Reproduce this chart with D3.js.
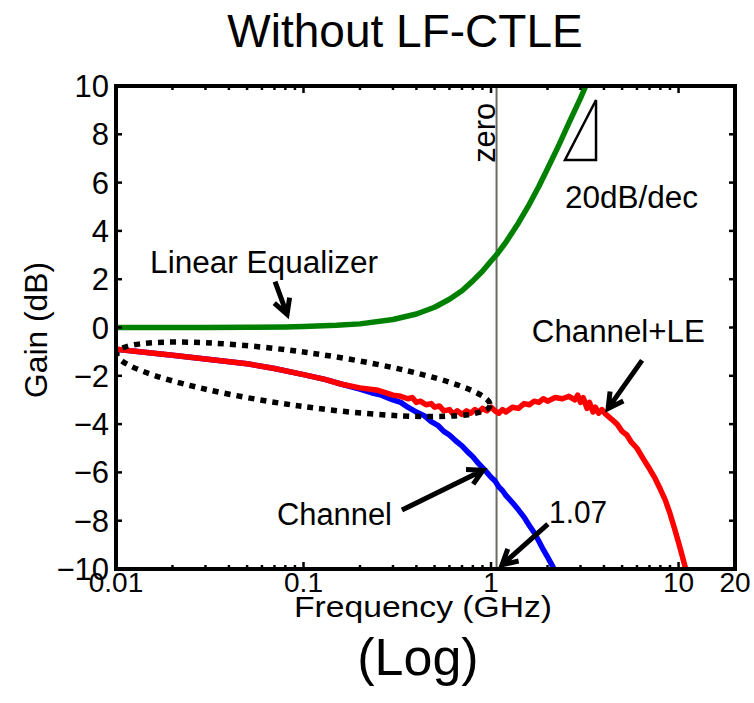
<!DOCTYPE html>
<html><head><meta charset="utf-8">
<script src="https://cdn.jsdelivr.net/npm/d3@7"></script>
<style>body{margin:0;background:#fff} text{font-family:"Liberation Sans",Arial,Helvetica,sans-serif;fill:#000}</style>
</head><body><svg id="c" width="754" height="703"></svg>
<script>
// ---------- data ----------
const xTickValues = [0.01, 0.1, 1, 10, 20];
const xTickLabels = ["0.01", "0.1", "1", "10", "20"];
const yTickValues = [-10, -8, -6, -4, -2, 0, 2, 4, 6, 8, 10];

const leFreq = [0.01, 0.03, 0.05, 0.08, 0.1, 0.15, 0.2, 0.3, 0.4, 0.5, 0.6, 0.7, 0.8, 0.9, 1.0, 1.07, 1.2, 1.4, 1.6, 1.8, 2.0, 2.3, 2.6, 3.0, 3.2, 3.4];
const leGain = [0, 0, 0.01, 0.02, 0.04, 0.09, 0.15, 0.33, 0.56, 0.84, 1.17, 1.52, 1.93, 2.33, 2.75, 3.01, 3.53, 4.33, 5.1, 5.85, 6.57, 7.55, 8.46, 9.5, 10.0, 10.5];

const chFreq = [0.01, 0.015, 0.02, 0.03, 0.05, 0.07, 0.1, 0.13, 0.16, 0.2, 0.23, 0.26, 0.3, 0.33, 0.36, 0.4, 0.44, 0.48, 0.52, 0.56, 0.6, 0.65, 0.7, 0.75, 0.8, 0.85, 0.9, 0.95, 1.0, 1.05, 1.1, 1.15, 1.2, 1.3, 1.4, 1.5, 1.6, 1.7, 1.8, 1.9, 2.0, 2.1, 2.2];
const chGain = [-0.9, -1.05, -1.15, -1.3, -1.5, -1.7, -1.95, -2.15, -2.35, -2.55, -2.7, -2.8, -3.0, -3.1, -3.3, -3.5, -3.65, -3.9, -4.05, -4.3, -4.45, -4.7, -4.9, -5.15, -5.35, -5.6, -5.8, -6.0, -6.2, -6.35, -6.6, -6.75, -6.95, -7.25, -7.55, -7.85, -8.2, -8.5, -8.85, -9.2, -9.5, -9.8, -10.1];

const cleFreq = [0.01, 0.015, 0.02, 0.03, 0.05, 0.07, 0.1, 0.13, 0.16, 0.2, 0.25, 0.3, 0.33, 0.36, 0.38, 0.4, 0.42, 0.45, 0.48, 0.5, 0.53, 0.56, 0.6, 0.63, 0.66, 0.7, 0.74, 0.78, 0.82, 0.86, 0.9, 0.95, 1.0, 1.05, 1.1, 1.15, 1.2, 1.3, 1.4, 1.5, 1.6, 1.7, 1.8, 1.9, 2.0, 2.2, 2.4, 2.6, 2.8, 2.9, 3.0, 3.1, 3.25, 3.35, 3.5, 3.6, 3.75, 3.9, 4.1, 4.4, 4.7, 5.0, 5.3, 5.6, 6.0, 6.5, 7.0, 7.5, 8.0, 8.5, 9.0, 9.5, 10, 10.5, 11];
const cleGain = [-0.9, -1.05, -1.15, -1.3, -1.5, -1.7, -1.95, -2.15, -2.35, -2.5, -2.6, -2.8, -2.85, -2.95, -2.9, -3.1, -3.05, -3.2, -3.15, -3.3, -3.25, -3.45, -3.4, -3.6, -3.45, -3.6, -3.45, -3.55, -3.4, -3.5, -3.35, -3.45, -3.3, -3.45, -3.55, -3.4, -3.5, -3.3, -3.35, -3.15, -3.2, -3.05, -3.1, -2.95, -3.05, -2.9, -2.95, -2.85, -3.0, -2.8, -3.1, -2.9, -3.35, -3.1, -3.5, -3.3, -3.55, -3.4, -3.6, -3.8, -4.0, -4.3, -4.45, -4.75, -5.0, -5.45, -5.85, -6.25, -6.7, -7.15, -7.7, -8.3, -8.9, -9.5, -10.1];

const zeroFreq = 1.07;

// ---------- layout ----------
const W = 754, H = 703;
const L = 116, R = 735, T = 86, B = 569;
const svg = d3.select("#c");
svg.append("rect").attr("width", W).attr("height", H).attr("fill", "#fff");

const x = d3.scaleLog().domain([0.01, 20]).range([L, R]);
const y = d3.scaleLinear().domain([-10, 10]).range([B, T]);

svg.append("defs").append("clipPath").attr("id", "clip")
  .append("rect").attr("x", L).attr("y", T).attr("width", R - L).attr("height", B - T);

const plot = svg.append("g").attr("clip-path", "url(#clip)");

// zero line
plot.append("line").attr("x1", x(zeroFreq)).attr("x2", x(zeroFreq)).attr("y1", T).attr("y2", B)
  .attr("stroke", "#6b6b62").attr("stroke-width", 2);

const line = d3.line().x(d => x(d[0])).y(d => y(d[1]));
function series(fr, g, color) {
  plot.append("path").datum(fr.map((f, i) => [f, g[i]]))
    .attr("d", line).attr("fill", "none").attr("stroke", color)
    .attr("stroke-width", 5.5).attr("stroke-linejoin", "round").attr("stroke-linecap", "round");
}
series(leFreq, leGain, "#008000");
series(chFreq, chGain, "#0000ff");
series(cleFreq, cleGain, "#ff0000");

// dotted ellipse (ends given in data units)
const ellA = [0.0101, -1.07], ellB = [0.988, -3.22];
{
  const x1 = x(ellA[0]), y1 = y(ellA[1]), x2 = x(ellB[0]), y2 = y(ellB[1]);
  const cx = (x1 + x2) / 2, cy = (y1 + y2) / 2;
  const a = Math.hypot(x2 - x1, y2 - y1) / 2, b = 27;
  const ang = Math.atan2(y2 - y1, x2 - x1) * 180 / Math.PI;
  svg.append("ellipse").attr("cx", 0).attr("cy", 0).attr("rx", a).attr("ry", b)
    .attr("transform", `translate(${cx},${cy}) rotate(${ang})`)
    .attr("fill", "none").attr("stroke", "#000").attr("stroke-width", 5.5)
    .attr("stroke-dasharray", "6,6");
}

// frame
svg.append("rect").attr("x", L).attr("y", T).attr("width", R - L).attr("height", B - T)
  .attr("fill", "none").attr("stroke", "#000").attr("stroke-width", 4);

// ticks
const tk = svg.append("g").attr("stroke", "#000").attr("stroke-width", 2.5);
yTickValues.forEach(v => {
  tk.append("line").attr("x1", L).attr("x2", L + 6).attr("y1", y(v)).attr("y2", y(v));
  tk.append("line").attr("x1", R).attr("x2", R - 6).attr("y1", y(v)).attr("y2", y(v));
});
const minor = [];
[0.01, 0.1, 1, 10].forEach(d => { for (let k = 2; k <= 9; k++) if (d * k <= 20) minor.push(d * k); });
[0.01, 0.1, 1, 10].forEach(v => {
  tk.append("line").attr("x1", x(v)).attr("x2", x(v)).attr("y1", B).attr("y2", B - 7);
  tk.append("line").attr("x1", x(v)).attr("x2", x(v)).attr("y1", T).attr("y2", T + 7);
});
minor.forEach(v => {
  tk.append("line").attr("x1", x(v)).attr("x2", x(v)).attr("y1", B).attr("y2", B - 4);
  tk.append("line").attr("x1", x(v)).attr("x2", x(v)).attr("y1", T).attr("y2", T + 4);
});

// tick labels
yTickValues.forEach(v => {
  svg.append("text").attr("x", L - 7).attr("y", y(v) + 11).attr("text-anchor", "end")
    .attr("font-size", 31).text(v < 0 ? "\u2212" + Math.abs(v) : String(v));
});
xTickValues.forEach((v, i) => {
  svg.append("text").attr("x", x(v)).attr("y", 592).attr("text-anchor", "middle")
    .attr("font-size", 28).text(xTickLabels[i]);
});

// titles
svg.append("text").attr("x", 405).attr("y", 47).attr("font-size", 46).attr("text-anchor", "middle")
  .text("Without LF-CTLE");
svg.append("text").attr("x", 423).attr("y", 617).attr("font-size", 30).attr("text-anchor", "middle")
  .attr("textLength", 258).attr("lengthAdjust", "spacingAndGlyphs").text("Frequency (GHz)");
svg.append("text").attr("x", 418).attr("y", 675).attr("font-size", 52).attr("text-anchor", "middle")
  .text("(Log)");
svg.append("text").attr("transform", "translate(47,398) rotate(-90)").attr("font-size", 32)
  .attr("textLength", 136).attr("lengthAdjust", "spacingAndGlyphs").text("Gain (dB)");

// annotations (positions in data units)
const labels = [
  {t: "Linear Equalizer", f: 0.0152, g: 2.27, len: 228},
  {t: "20dB/dec", f: 2.48, g: 4.96, len: 133},
  {t: "Channel+LE", f: 1.65, g: -0.58, len: 173},
  {t: "Channel", f: 0.0722, g: -8.18, len: 115},
  {t: "1.07", f: 2.04, g: -8.10, len: 58}
];
labels.forEach(d => {
  svg.append("text").attr("x", x(d.f)).attr("y", y(d.g)).attr("font-size", 31)
    .attr("textLength", d.len).attr("lengthAdjust", "spacingAndGlyphs").text(d.t);
});
svg.append("text").attr("transform", `translate(${x(zeroFreq) - 2},${y(6.82)}) rotate(-90)`)
  .attr("font-size", 31).attr("textLength", 60).attr("lengthAdjust", "spacingAndGlyphs").text("zero");

// slope triangle
const tri = [[2.48, 6.94], [3.63, 6.94], [3.63, 9.42]];
svg.append("path").attr("d", "M" + tri.map(p => x(p[0]) + "," + y(p[1])).join("L") + "Z")
  .attr("fill", "none").attr("stroke", "#000").attr("stroke-width", 2.5);

// arrows: [tailF, tailG, tipF, tipG]
const arrows = [
  [0.0705, 1.90, 0.0817, 0.54],
  [6.39, -1.36, 4.21, -3.35],
  [0.335, -7.56, 0.906, -5.91],
  [2.01, -8.14, 1.145, -9.83]
];
arrows.forEach(a => {
  const x1 = x(a[0]), y1 = y(a[1]), x2 = x(a[2]), y2 = y(a[3]);
  const ang = Math.atan2(y2 - y1, x2 - x1);
  const hl = 17, ha = 0.5;
  const p1 = [x2 - hl * Math.cos(ang - ha), y2 - hl * Math.sin(ang - ha)];
  const p2 = [x2 - hl * Math.cos(ang + ha), y2 - hl * Math.sin(ang + ha)];
  svg.append("path").attr("d", `M${x1},${y1}L${x2},${y2}M${p1[0]},${p1[1]}L${x2},${y2}L${p2[0]},${p2[1]}`)
    .attr("fill", "none").attr("stroke", "#000").attr("stroke-width", 5).attr("stroke-linejoin", "miter");
});
</script></body></html>
